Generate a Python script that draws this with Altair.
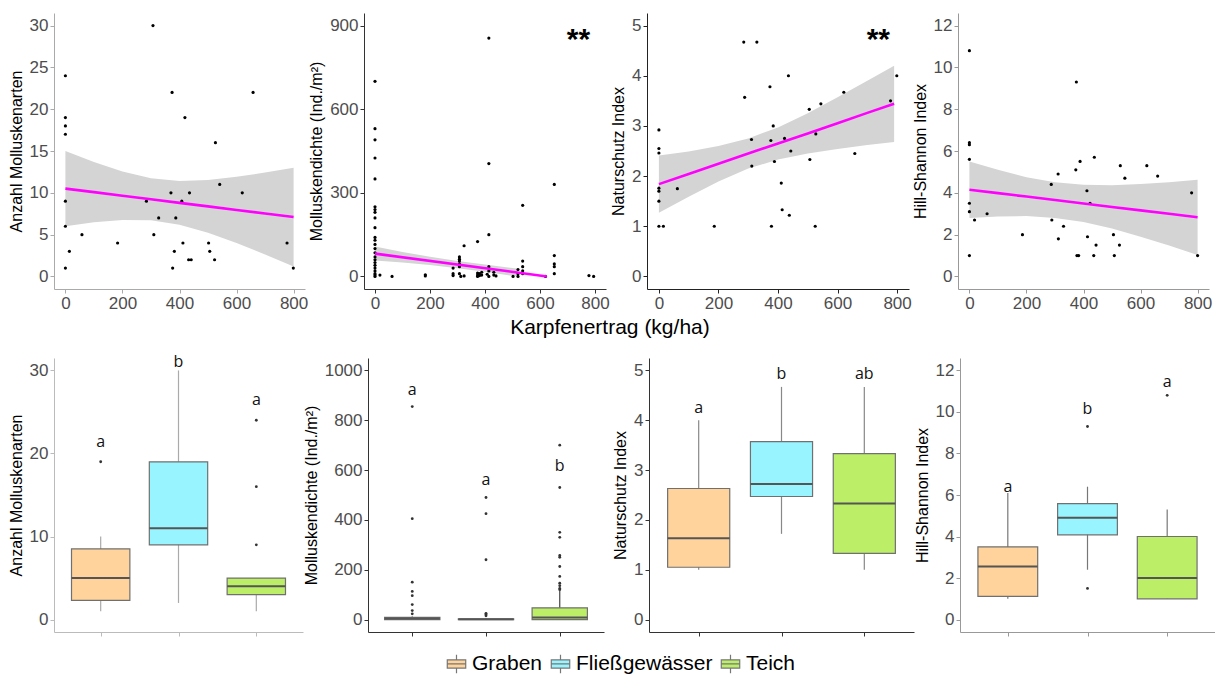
import altair as alt
import pandas as pd

FONT = "Liberation Sans"
LABEL_GREY = "#4D4D4D"

# ---------------- scatter data (Karpfenertrag vs. response) ----------------
anz_x = [0, 0, 0, 0, 0, 0, 0, 14, 58, 183, 284, 307, 310, 327, 370, 374, 376, 382, 387, 408,
         412, 419, 432, 441, 435, 502, 506, 523, 526, 541, 620, 658, 777, 799]
anz_y = [1, 6, 9, 17, 18, 19, 24, 3, 5, 4, 9, 30, 5, 7, 10, 22, 1, 3, 7, 9,
         4, 19, 2, 2, 10, 4, 3, 2, 16, 11, 10, 22, 4, 1]

dens_x = [0] * 24 + [18, 62, 183, 183, 284, 284, 284, 307, 307, 307, 307, 307, 307, 312, 324, 324,
                     373, 373, 373, 373, 380, 380, 388, 388, 408, 414, 414, 414, 414, 414, 414,
                     432, 432, 440, 502, 520, 520, 520, 537, 537, 537, 537, 537, 620,
                     652, 652, 652, 652, 652, 778, 795]
dens_y = [700, 530, 490, 425, 350, 250, 240, 230, 210, 175, 140, 130, 115, 100, 85, 70, 60, 50,
          40, 30, 20, 10, 5, 0,
          5, 0, 6, 2, 30, 10, 3, 70, 62, 55, 45, 35, 10, 0, 110, 2,
          125, 12, 5, 0, 10, 3, 15, 5, 8, 855, 405, 150, 35, 20, 0,
          15, 5, 2, 0, 25, 10, 0, 255, 55, 35, 20, 10, 0,
          330, 75, 45, 35, 10, 3, 0]

nat_x = [0, 15, 0, 0, 0, 0, 0, 0, 62, 186, 285, 329, 288, 311, 312, 373, 376, 378, 384, 388,
         411, 414, 422, 435, 438, 443, 505, 507, 525, 527, 544, 621, 658, 778, 799]
nat_y = [1.0, 1.0, 1.5, 1.7, 1.76, 2.46, 2.55, 2.92, 1.75, 1.0, 4.67, 4.67, 3.57, 2.73, 2.2,
         3.78, 2.71, 1.0, 3.0, 2.29, 1.86, 1.33, 2.75, 4.0, 1.22, 2.5, 3.33, 2.33, 1.0, 2.84,
         3.44, 3.67, 2.45, 3.5, 4.0]

hill_x = [0, 0, 0, 0, 0, 0, 0, 18, 62, 186, 287, 289, 311, 312, 330, 373, 375, 377, 383, 388,
          412, 414, 423, 436, 438, 444, 505, 508, 526, 529, 545, 622, 660, 779, 800]
hill_y = [10.8, 6.4, 6.3, 5.6, 3.5, 3.1, 1.0, 2.7, 3.0, 2.0, 4.4, 2.7, 4.9, 1.8, 2.4, 5.1,
          9.3, 1.0, 1.0, 5.5, 4.1, 1.9, 3.5, 1.0, 5.7, 1.5, 2.0, 1.0, 1.5, 5.3, 4.7, 5.3,
          4.8, 4.0, 1.0]

# fitted lines and confidence bands
fit_x = [0, 100, 200, 300, 400, 500, 600, 700, 800]
anz_fit = [10.5, 10.08, 9.65, 9.23, 8.8, 8.38, 7.95, 7.53, 7.1]
anz_lo = [6.0, 6.47, 6.75, 6.71, 6.18, 5.22, 3.99, 2.64, 1.2]
anz_hi = [15.0, 13.69, 12.55, 11.75, 11.42, 11.54, 11.91, 12.42, 13.0]

dens_line_x = [0, 625]
dens_line_y = [82, 0]
dens_band_x = [0, 100, 200, 300, 400, 500, 520]
dens_lo = [57, 49.9, 40.8, 29.6, 16.5, 2.4, 0]
dens_hi = [107, 87.9, 70.8, 55.6, 42.5, 30.4, 27.8]

nat_fx = [0, 100, 200, 300, 400, 500, 600, 700, 790]
nat_fit = [1.84, 2.04, 2.245, 2.45, 2.65, 2.85, 3.055, 3.26, 3.44]
nat_lo = [1.27, 1.59, 1.89, 2.15, 2.33, 2.45, 2.54, 2.62, 2.68]
nat_hi = [2.41, 2.49, 2.60, 2.75, 2.97, 3.25, 3.57, 3.90, 4.20]

hill_fit = [4.15, 3.985, 3.82, 3.655, 3.49, 3.325, 3.16, 2.995, 2.83]
hill_lo = [2.80, 2.87, 2.89, 2.80, 2.60, 2.29, 1.90, 1.48, 1.03]
hill_hi = [5.50, 5.10, 4.75, 4.51, 4.38, 4.36, 4.42, 4.51, 4.63]

# ---------------- boxplot data (per Gewässertyp) ----------------
groups = ["Graben", "Fließgewässer", "Teich"]
group_colors = ["#FFD39B", "#98F5FF", "#BCEE68"]

anzb_q1 = [2.3, 9, 3]
anzb_med = [5, 11, 4]
anzb_q3 = [8.5, 19, 5]
anzb_lo = [1, 2, 1]
anzb_hi = [10, 30, 5]
anzb_out_g = [1, 3, 3, 3]
anzb_out_v = [19, 9, 16, 24]
anzb_letters = ["a", "b", "a"]
anzb_letter_y = [21.4, 31.0, 26.5]

densb_q1 = [0, 0, 0]
densb_med = [4, 1, 8]
densb_q3 = [9, 3, 47]
densb_lo = [0, 0, 0]
densb_hi = [12, 6, 115]
densb_out_g = [1, 1, 1, 1, 1, 1, 1, 1, 2, 2, 2, 2, 2, 2,
               3, 3, 3, 3, 3, 3, 3, 3, 3, 3, 3, 3]
densb_out_v = [855, 405, 150, 113, 96, 60, 36, 23, 490, 425, 240, 25, 20, 15,
               700, 530, 350, 330, 257, 250, 213, 173, 146, 136, 125, 120]
densb_letters = ["a", "a", "b"]
densb_letter_y = [920, 560, 615]

natb_q1 = [1.05, 2.47, 1.33]
natb_med = [1.63, 2.72, 2.33]
natb_q3 = [2.63, 3.57, 3.33]
natb_lo = [1.0, 1.72, 1.0]
natb_hi = [4.0, 4.67, 4.67]
natb_out_g = []
natb_out_v = []
natb_letters = ["a", "b", "ab"]
natb_letter_y = [4.25, 4.93, 4.93]

hillb_q1 = [1.12, 4.08, 1.0]
hillb_med = [2.55, 4.9, 2.0]
hillb_q3 = [3.5, 5.58, 4.0]
hillb_lo = [1.0, 2.4, 1.0]
hillb_hi = [6.1, 6.4, 5.3]
hillb_out_g = [2, 2, 3]
hillb_out_v = [9.3, 1.5, 10.8]
hillb_letters = ["a", "b", "a"]
hillb_letter_y = [6.4, 10.15, 11.45]

LEGEND_PATH = "M-1,-0.45H1V0.45H-1Z M-1,0H1 M0,-1V-0.45 M0,0.45V1"


def y_axis(title, values, axcol):
    return alt.Axis(title=title, values=values, format="d", grid=False, domainColor=axcol,
                    tickColor=axcol, tickSize=4, labelColor=LABEL_GREY, labelFontSize=17,
                    labelFont=FONT, labelPadding=2, titleColor="black", titleFontSize=16,
                    titleFont=FONT, titleFontWeight="normal", titlePadding=5)


def x_axis(axcol, values, labels=True):
    return alt.Axis(title=None, values=values, format="d", grid=False, domainColor=axcol,
                    tickColor=axcol, tickSize=4, labels=labels, labelColor=LABEL_GREY,
                    labelFontSize=17, labelFont=FONT, labelPadding=2)


def scatter_panel(xs, ys, lx, ly, bx, blo, bhi, title, ydom, yticks, width, axcol, star=None):
    xsc = alt.Scale(domain=[-40, 840], nice=False, zero=False)
    ysc = alt.Scale(domain=ydom, nice=False, zero=False)
    xax = x_axis(axcol, [0, 200, 400, 600, 800])
    yax = y_axis(title, yticks, axcol)
    band = alt.Chart(pd.DataFrame({"x": bx, "lo": blo, "hi": bhi})).mark_area(
        color="#D4D4D4", opacity=1).encode(
        x=alt.X("x:Q", scale=xsc, axis=xax),
        y=alt.Y("lo:Q", scale=ysc, axis=yax),
        y2="hi:Q")
    pts = alt.Chart(pd.DataFrame({"x": xs, "y": ys})).mark_circle(
        size=10, color="black", opacity=1).encode(
        x=alt.X("x:Q", scale=xsc, axis=xax),
        y=alt.Y("y:Q", scale=ysc, axis=yax))
    line = alt.Chart(pd.DataFrame({"x": lx, "y": ly})).mark_line(
        color="#FF00FF", strokeWidth=2.6).encode(
        x=alt.X("x:Q", scale=xsc, axis=xax),
        y=alt.Y("y:Q", scale=ysc, axis=yax))
    layers = [band, pts, line]
    if star is not None:
        st = alt.Chart(pd.DataFrame({"x": [star[0]], "y": [star[1]], "t": ["**"]})).mark_text(
            fontSize=30, font=FONT, fontWeight="bold", color="black", baseline="middle",
            dy=8).encode(
            x=alt.X("x:Q", scale=xsc, axis=xax),
            y=alt.Y("y:Q", scale=ysc, axis=yax),
            text="t:N")
        layers.append(st)
    return alt.layer(*layers).properties(width=width, height=276)


def box_panel(q1, med, q3, wlo, whi, og, ov, letters, ly, title, ydom, yticks, width, axcol,
              wcol="#999999"):
    xsc = alt.Scale(domain=[0.4, 3.6], nice=False, zero=False)
    ysc = alt.Scale(domain=ydom, nice=False, zero=False)
    xax = x_axis(axcol, [1, 2, 3], labels=False)
    yax = y_axis(title, yticks, axcol)
    stats = pd.DataFrame({"idx": [1, 2, 3], "Gruppe": groups, "q1": q1, "med": med, "q3": q3,
                          "lo": wlo, "hi": whi, "letter": letters, "ly": ly})
    base = alt.Chart(stats).transform_calculate(x0="datum.idx - 0.375", x1="datum.idx + 0.375")
    whisk = base.mark_rule(color=wcol, strokeWidth=1.2).encode(
        x=alt.X("idx:Q", scale=xsc, axis=xax),
        y=alt.Y("lo:Q", scale=ysc, axis=yax), y2="hi:Q")
    box = base.mark_rect(stroke="#707070", strokeWidth=1.2).encode(
        x=alt.X("x0:Q", scale=xsc, axis=xax), x2="x1:Q",
        y=alt.Y("q1:Q", scale=ysc, axis=yax), y2="q3:Q",
        color=alt.Color("Gruppe:N", scale=alt.Scale(domain=groups, range=group_colors),
                        legend=alt.Legend(title=None, orient="none", direction="horizontal",
                                          legendX=392, legendY=640,
                                          symbolType=LEGEND_PATH, symbolSize=340,
                                          symbolStrokeColor="#777777", symbolStrokeWidth=1.2,
                                          labelFontSize=21, labelFont=FONT, labelColor="black",
                                          labelOffset=5, columnPadding=5)))
    medl = base.mark_rule(color="#555555", strokeWidth=2).encode(
        x=alt.X("x0:Q", scale=xsc, axis=xax), x2="x1:Q",
        y=alt.Y("med:Q", scale=ysc, axis=yax))
    txt = base.mark_text(fontSize=16, font="Open Sans", fontWeight=500, color="#111111",
                         baseline="middle").encode(
        x=alt.X("idx:Q", scale=xsc, axis=xax),
        y=alt.Y("ly:Q", scale=ysc, axis=yax), text="letter:N")
    layers = [whisk, box, medl, txt]
    if len(og) > 0:
        outl = alt.Chart(pd.DataFrame({"idx": og, "v": ov})).mark_circle(
            size=8, color="#333333", opacity=1).encode(
            x=alt.X("idx:Q", scale=xsc, axis=xax),
            y=alt.Y("v:Q", scale=ysc, axis=yax))
        layers.append(outl)
    return alt.layer(*layers).properties(width=width, height=274)


p1 = scatter_panel(anz_x, anz_y, fit_x, anz_fit, fit_x, anz_lo, anz_hi, "Anzahl Molluskenarten",
                   [-1.5, 31.5], [0, 5, 10, 15, 20, 25, 30], 251, "#AAAAAA")
p2 = scatter_panel(dens_x, dens_y, dens_line_x, dens_line_y, dens_band_x, dens_lo, dens_hi,
                   "Molluskendichte (Ind./m²)", [-45, 945], [0, 300, 600, 900], 242, "#333333",
                   star=(740, 877))
p3 = scatter_panel(nat_x, nat_y, nat_fx, nat_fit, nat_fx, nat_lo, nat_hi, "Naturschutz Index",
                   [-0.25, 5.25], [0, 1, 2, 3, 4, 5], 262, "#222222", star=(737, 4.87))
p4 = scatter_panel(hill_x, hill_y, fit_x, hill_fit, fit_x, hill_lo, hill_hi, "Hill-Shannon Index",
                   [-0.6, 12.6], [0, 2, 4, 6, 8, 10, 12], 251, "#999999")

p5 = box_panel(anzb_q1, anzb_med, anzb_q3, anzb_lo, anzb_hi, anzb_out_g, anzb_out_v, anzb_letters,
               anzb_letter_y, "Anzahl Molluskenarten", [-1.5, 31.5], [0, 10, 20, 30], 249, "#BBBBBB",
               wcol="#AAAAAA")
p6 = box_panel(densb_q1, densb_med, densb_q3, densb_lo, densb_hi, densb_out_g, densb_out_v,
               densb_letters, densb_letter_y, "Molluskendichte (Ind./m²)", [-50, 1050],
               [0, 200, 400, 600, 800, 1000], 236, "#333333", wcol="#444444")
p7 = box_panel(natb_q1, natb_med, natb_q3, natb_lo, natb_hi, natb_out_g, natb_out_v, natb_letters,
               natb_letter_y, "Naturschutz Index", [-0.25, 5.25], [0, 1, 2, 3, 4, 5], 265, "#333333",
               wcol="#888888")
p8 = box_panel(hillb_q1, hillb_med, hillb_q3, hillb_lo, hillb_hi, hillb_out_g, hillb_out_v,
               hillb_letters, hillb_letter_y, "Hill-Shannon Index", [-0.6, 12.6],
               [0, 2, 4, 6, 8, 10, 12], 255, "#999999", wcol="#777777")

top = alt.hconcat(p1, p2, p3, p4, spacing=0).properties(
    title=alt.TitleParams("Karpfenertrag (kg/ha)", orient="bottom", anchor="middle", fontSize=21,
                          font=FONT, fontWeight="normal", color="black", offset=6))
bottom = alt.hconcat(alt.hconcat(p5, p6, spacing=0), alt.hconcat(p7, p8, spacing=0), spacing=8)

chart = alt.vconcat(top, bottom, spacing=16).properties(
    padding={"left": 0, "top": 5, "right": 0, "bottom": 0}
).configure_view(stroke=None).configure_concat(spacing=0)

chart.save("out.html", embed_options={"renderer": "svg", "actions": False})
